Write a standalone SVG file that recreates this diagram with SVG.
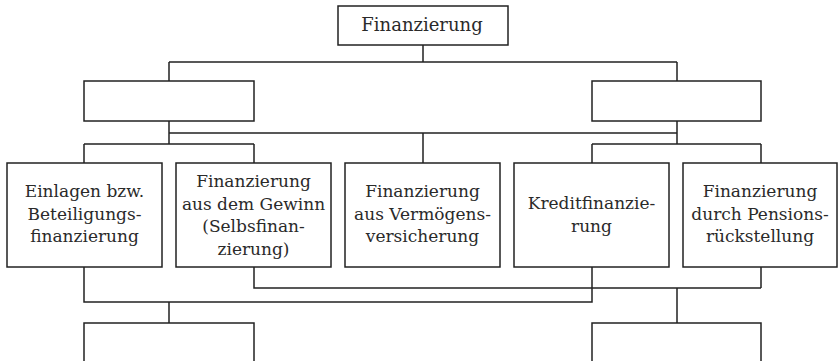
<svg xmlns="http://www.w3.org/2000/svg" width="840" height="361" viewBox="0 0 840 361">
<style>
.box{fill:#fff;stroke:#222;stroke-width:1.5}
.con{fill:none;stroke:#222;stroke-width:1.5}
text{font-family:"DejaVu Serif","Liberation Serif",serif;font-size:17px;fill:#2a2a2a;text-anchor:middle}
</style>
<rect width="840" height="361" fill="#fff"/>
<g id="connectors" class="con">
<path d="M423 45V62M169 62H677M169 62V81M677 62V81"/>
<path d="M169 121V144M677 121V144M169 133H677M423 133V163"/>
<path d="M84 144H254M84 144V163M254 144V163M592 144H761M592 144V163M761 144V163"/>
<path d="M254 267V288H761M761 267V288M677 288V323"/>
<path d="M84 267V302H592V267M169 302V323"/>
</g>
<g id="top"><rect class="box" x="338" y="6" width="170" height="39"/><text x="422" y="31" style="font-size:18px">Finanzierung</text></g>
<g id="mid-left"><rect class="box" x="84" y="81" width="170" height="40"/></g>
<g id="mid-right"><rect class="box" x="592" y="81" width="169" height="40"/></g>
<g id="n1"><rect class="box" x="7" y="163" width="155" height="104"/><text x="84.5" y="197">Einlagen bzw.</text><text x="84.5" y="220">Beteiligungs-</text><text x="84.5" y="242">finanzierung</text></g>
<g id="n2"><rect class="box" x="176" y="163" width="155" height="104"/><text x="253.5" y="187">Finanzierung</text><text x="253.5" y="210">aus dem Gewinn</text><text x="253.5" y="232">(Selbsfinan-</text><text x="253.5" y="255">zierung)</text></g>
<g id="n3"><rect class="box" x="345" y="163" width="155" height="104"/><text x="422.5" y="197">Finanzierung</text><text x="422.5" y="220">aus Vermögens-</text><text x="422.5" y="242">versicherung</text></g>
<g id="n4"><rect class="box" x="514" y="163" width="155" height="104"/><text x="591.5" y="209">Kreditfinanzie-</text><text x="591.5" y="232">rung</text></g>
<g id="n5"><rect class="box" x="683" y="163" width="154" height="104"/><text x="760" y="197">Finanzierung</text><text x="760" y="220">durch Pensions-</text><text x="760" y="242">rückstellung</text></g>
<g id="bottom-left"><rect class="box" x="84" y="323" width="170" height="50"/></g>
<g id="bottom-right"><rect class="box" x="592" y="323" width="169" height="50"/></g>
</svg>
